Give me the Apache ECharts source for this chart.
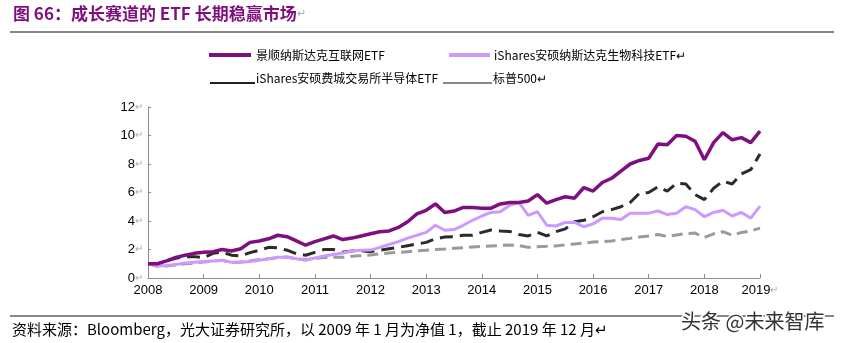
<!DOCTYPE html>
<html>
<head>
<meta charset="utf-8">
<script src="https://cdn.jsdelivr.net/npm/echarts@6.0.0/dist/echarts.min.js"></script>
<style>
  html, body { margin: 0; padding: 0; background: #fff; }
  #chart { width: 844px; height: 343px; }
</style>
</head>
<body>
<div id="chart"></div>
<script>
// year labels on the x axis, one point every two months
const years = [2008, 2009, 2010, 2011, 2012, 2013, 2014, 2015, 2016, 2017, 2018, 2019];
const stepsPerYear = 6;

const names = [
  '景顺纳斯达克互联网ETF',
  'iShares安硕纳斯达克生物科技ETF',
  'iShares安硕费城交易所半导体ETF',
  '标普500'
];

const internet = [
  1.0, 1.0, 1.2, 1.45, 1.6, 1.73, 1.8, 1.85, 2.0, 1.9, 2.05, 2.5,
  2.6, 2.75, 3.0, 2.9, 2.6, 2.3, 2.55, 2.75, 2.95, 2.7, 2.8, 2.95,
  3.1, 3.25, 3.3, 3.55, 3.95, 4.5, 4.75, 5.2, 4.6, 4.7, 4.95, 4.95,
  4.9, 4.9, 5.2, 5.3, 5.3, 5.4, 5.85, 5.25, 5.5, 5.7, 5.6, 6.35,
  6.1, 6.7, 7.0, 7.5, 8.0, 8.25, 8.4, 9.4, 9.35, 10.0, 9.95, 9.6,
  8.3, 9.5, 10.2, 9.7, 9.85, 9.5, 10.3
];
const biotech = [
  1.0, 0.85, 0.88, 0.95, 1.05, 1.1, 1.15, 1.2, 1.25, 1.1, 1.1, 1.15,
  1.25, 1.35, 1.45, 1.45, 1.35, 1.25, 1.4, 1.55, 1.65, 1.75, 1.9, 1.95,
  1.96, 2.15, 2.35, 2.55, 2.8, 3.0, 3.2, 3.7, 3.35, 3.4, 3.7, 4.05,
  4.35, 4.6, 4.65, 5.1, 5.3, 4.4, 4.65, 3.7, 3.65, 3.9, 3.9, 3.6,
  3.8, 4.2, 4.2, 4.1, 4.55, 4.55, 4.55, 4.7, 4.45, 4.55, 5.0, 4.8,
  4.3, 4.6, 4.75, 4.35, 4.6, 4.2, 5.05
];
const semis = [
  1.0, 0.98, 1.2, 1.38, 1.5, 1.5, 1.42, 1.73, 1.82, 1.6, 1.55, 1.78,
  1.95, 2.15, 2.12, 1.95, 1.7, 1.6, 1.8, 2.0, 2.0, 1.8, 1.9, 1.92,
  1.85, 1.95, 2.05, 2.15, 2.27, 2.38, 2.5, 2.75, 2.88, 2.9, 3.0, 3.0,
  3.2, 3.37, 3.3, 3.27, 3.05, 2.95, 3.2, 2.95, 3.25, 3.45, 3.95, 4.05,
  4.3, 4.65, 4.8, 5.0, 5.3, 5.95, 6.0, 6.4, 6.1, 6.65, 6.6, 5.85,
  5.5, 6.3, 6.8, 6.6, 7.3, 7.6, 8.7
];
const sp500 = [
  1.0, 0.82, 0.85, 0.92, 1.0, 1.05, 1.12, 1.18, 1.25, 1.08, 1.12, 1.2,
  1.3, 1.35, 1.42, 1.48, 1.35, 1.3, 1.38, 1.43, 1.45, 1.45, 1.52, 1.57,
  1.62, 1.7, 1.75, 1.8, 1.85, 1.9, 1.95, 2.0, 2.03, 2.08, 2.13, 2.18,
  2.22, 2.25, 2.28, 2.32, 2.28, 2.15, 2.2, 2.22, 2.25, 2.33, 2.39, 2.45,
  2.52, 2.55, 2.6, 2.7, 2.78, 2.88, 2.95, 3.05, 2.92, 3.02, 3.12, 3.15,
  2.85, 3.1, 3.25, 3.0, 3.2, 3.3, 3.5
];

const yTicks = [0, 2, 4, 6, 8, 10, 12];

const colors = ['#7f0f7e', '#cc99ff', '#2b2b2b', '#9a9a9a'];
const retMark = '\u21b5';

const categories = internet.map((_, i) => {
  const y = years[0] + Math.floor(i / stepsPerYear);
  const m = (i % stepsPerYear) * 2 + 1;
  return y + '-' + (m < 10 ? '0' + m : m);
});

const chart = echarts.init(document.getElementById('chart'));

const lineSeries = (name, data, color, width, dash) => ({
  name,
  type: 'line',
  data,
  symbol: 'none',
  smooth: false,
  lineStyle: { color, width, type: dash || 'solid', cap: 'butt' },
  z: 2
});

const legendItem = (x1, x2, y, color, width, label, tx, ty) => [
  { type: 'line', shape: { x1, y1: y, x2, y2: y }, style: { stroke: color, lineWidth: width } },
  {
    type: 'text', x: tx, y: ty,
    style: {
      text: label, fill: '#000', font: '12px "Noto Sans CJK SC", sans-serif',
      verticalAlign: 'middle'
    }
  }
];

chart.setOption({
  animation: false,
  backgroundColor: '#fff',
  grid: { left: 148, right: 84, top: 107, bottom: 65 },
  xAxis: {
    type: 'category',
    data: categories,
    boundaryGap: false,
    axisLine: { lineStyle: { color: '#8c8c8c', width: 1 } },
    axisTick: { show: true, inside: true, length: 4, interval: stepsPerYear - 1, lineStyle: { color: '#8c8c8c' } },
    axisLabel: {
      interval: stepsPerYear - 1,
      margin: 6,
      color: '#000',
      fontSize: 13,
      fontFamily: '"Liberation Sans Narrow", "Liberation Sans", sans-serif',
      formatter: (v, i) => {
        const y = v.slice(0, 4);
        return i === categories.length - 1 ? '{n|' + y + '}{r|' + retMark + '}' : '{n|' + y + '}';
      },
      rich: {
        n: { fontSize: 13, fontFamily: '"Liberation Sans Narrow", "Liberation Sans", sans-serif', color: '#000' },
        r: { fontSize: 10, color: '#aaa' }
      }
    },
    splitLine: { show: false }
  },
  yAxis: {
    type: 'value',
    min: yTicks[0],
    max: yTicks[yTicks.length - 1],
    interval: 2,
    axisLine: { show: true, lineStyle: { color: '#8c8c8c', width: 1 } },
    axisTick: { show: true, inside: true, length: 3, lineStyle: { color: '#8c8c8c' } },
    splitLine: { show: false },
    axisLabel: {
      margin: 5,
      formatter: v => '{n|' + v + '}{r|' + retMark + '}',
      rich: {
        n: { fontSize: 13, fontFamily: '"Liberation Sans", Arial, sans-serif', color: '#000' },
        r: { fontSize: 10, color: '#aaa' }
      }
    }
  },
  series: [
    lineSeries(names[3], sp500, colors[3], 3, [11, 6]),
    lineSeries(names[2], semis, colors[2], 3, [13, 7]),
    lineSeries(names[1], biotech, colors[1], 3),
    lineSeries(names[0], internet, colors[0], 3.5)
  ],
  graphic: [
    {
      type: 'text', x: 13, y: 14,
      style: {
        text: '{t|图 66：成长赛道的 ETF 长期稳赢市场}{r|' + retMark + '}',
        verticalAlign: 'middle',
        rich: {
          t: { fill: '#7f0f7e', fontSize: 17, fontWeight: 'bold', fontFamily: '"Noto Sans CJK SC", sans-serif' },
          r: { fill: '#aaa', fontSize: 11 }
        }
      }
    },
    { type: 'line', shape: { x1: 10, y1: 32, x2: 834, y2: 32 }, style: { stroke: '#111', lineWidth: 1.2 } },

    ...legendItem(209, 251, 55, colors[0], 4, names[0], 256, 55),
    ...legendItem(449, 490, 55, colors[1], 4, names[1] + retMark, 494, 55),
    ...legendItem(210, 255, 83, '#222', 2, names[2], 256, 78),
    ...legendItem(443, 492, 83, '#888', 2, names[3] + retMark, 493, 78),

    { type: 'line', shape: { x1: 10, y1: 316, x2: 834, y2: 316 }, style: { stroke: '#111', lineWidth: 1 } },
    {
      type: 'text', x: 12, y: 329,
      style: {
        text: '资料来源：Bloomberg，光大证券研究所，以 2009 年 1 月为净值 1，截止 2019 年 12 月' + retMark,
        fill: '#000', font: '15px "Noto Sans CJK SC", sans-serif', verticalAlign: 'middle'
      }
    },
    {
      type: 'text', x: 681, y: 321, z: 10,
      style: {
        text: '头条 @未来智库',
        fill: '#333', stroke: '#fff', lineWidth: 3,
        font: '20px "Noto Sans CJK SC", sans-serif', verticalAlign: 'middle'
      }
    }
  ]
});
</script>
</body>
</html>
